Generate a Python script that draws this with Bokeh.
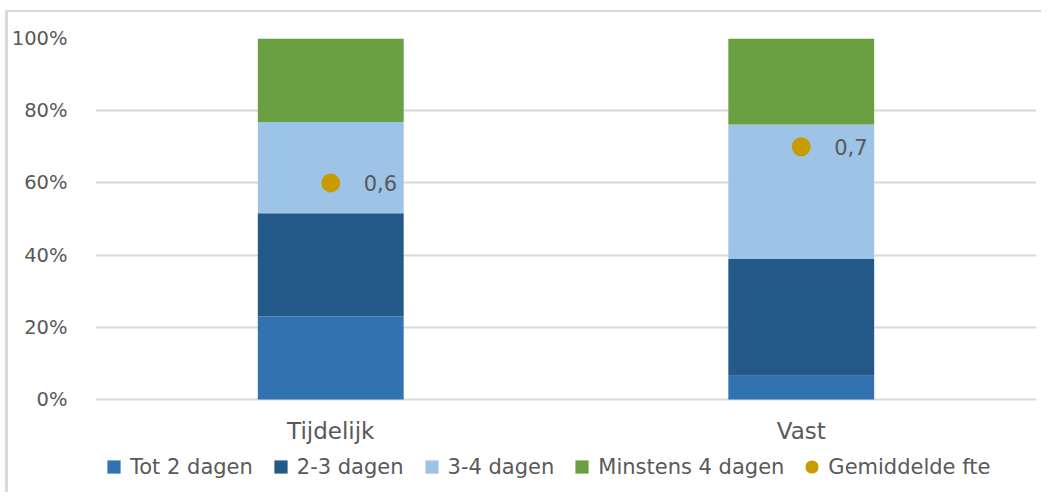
from bokeh.plotting import figure
from bokeh.models import (ColumnDataSource, FixedTicker, NumeralTickFormatter,
                          Legend, LegendItem, Range1d)
from bokeh.core.properties import value
from bokeh.embed import file_html
from bokeh.resources import INLINE

# ---- data ----
categories = ["Tijdelijk", "Vast"]
series_names = ["Tot 2 dagen", "2-3 dagen", "3-4 dagen", "Minstens 4 dagen"]
tot_2_dagen = [0.230, 0.066]
dagen_2_3 = [0.286, 0.323]
dagen_3_4 = [0.253, 0.373]
minstens_4 = [0.231, 0.238]
gemiddelde_fte = [0.6, 0.7]
y_ticks = [0, 0.2, 0.4, 0.6, 0.8, 1.0]

colors = ["#3372b0", "#245a8a", "#9dc3e6", "#6a9f42"]
dot_color = "#c89b00"
text_color = "#595959"
FONT = "DejaVu Sans"

# layout (pixels): frame spans 452 px, of which 361 px hold 0..100 %
FRAME_H = 452
PLOT_H = 361

src = ColumnDataSource(dict(cat=categories, s0=tot_2_dagen, s1=dagen_2_3,
                            s2=dagen_3_4, s3=minstens_4))
dot_src = ColumnDataSource(dict(cat=categories, fte=gemiddelde_fte,
                                lab=[f"{v:.1f}".replace(".", ",") for v in gemiddelde_fte]))
cat_src = ColumnDataSource(dict(cat=categories, y=[0] * len(categories)))

p = figure(x_range=categories, y_range=Range1d(-(FRAME_H - PLOT_H) / PLOT_H, 1),
           width=1036, height=482, output_backend="svg", toolbar_location=None,
           min_border_left=87, min_border_right=8, min_border_top=26, min_border_bottom=4)
p.outline_line_color = None
p.background_fill_color = "white"
p.border_fill_color = "white"
p.styles = {"margin-left": "5px", "margin-top": "10px",
            "border-top": "2px solid #d9d9d9", "border-left": "3px solid #d9d9d9"}

p.vbar_stack(["s0", "s1", "s2", "s3"], x="cat", width=0.31, source=src,
             color=colors, line_width=0)

p.scatter(x="cat", y="fte", source=dot_src, size=19, color=dot_color, line_width=0)
p.text(x="cat", y="fte", text="lab", source=dot_src, x_offset=33,
       text_align="left", text_baseline="middle", text_color=text_color,
       text_font=value(FONT), text_font_size="21px")

# category labels under the bars
p.text(x="cat", y="y", text="cat", source=cat_src, y_offset=31,
       text_align="center", text_baseline="middle", text_color=text_color,
       text_font=value(FONT), text_font_size="23px")

# axes
p.xaxis.visible = False
p.yaxis.ticker = FixedTicker(ticks=y_ticks)
p.yaxis.formatter = NumeralTickFormatter(format="0%")
p.yaxis.axis_line_color = None
p.yaxis.major_tick_line_color = None
p.yaxis.minor_tick_line_color = None
p.yaxis.major_label_standoff = 22
p.yaxis.major_label_text_font = FONT
p.yaxis.major_label_text_font_size = "19.5px"
p.yaxis.major_label_text_color = text_color

p.xgrid.grid_line_color = None
p.ygrid.ticker = FixedTicker(ticks=y_ticks)
p.ygrid.grid_line_color = "#d9d9d9"
p.ygrid.grid_line_width = 2

# legend with proxy renderers (one invisible NaN point each)
def proxy():
    return ColumnDataSource(dict(x=[categories[0]], y=[float("nan")]))

items = []
for name, c in zip(series_names, colors):
    r = p.scatter(x="x", y="y", source=proxy(), marker="square",
                  size=13, color=c, line_width=0)
    items.append(LegendItem(label=name, renderers=[r]))
rd = p.scatter(x="x", y="y", source=proxy(), marker="circle",
               size=13, color=dot_color, line_width=0)
items.append(LegendItem(label="Gemiddelde fte", renderers=[rd]))

legend = Legend(items=items, orientation="horizontal", location=(2, 7),
                glyph_width=33, glyph_height=33, label_standoff=-5, spacing=11,
                padding=0, margin=0, border_line_color=None,
                background_fill_alpha=0, label_text_font=FONT,
                label_text_font_size="21px", label_text_color=text_color)
p.add_layout(legend, "center")

open("out.html", "w").write(file_html(p, INLINE))
